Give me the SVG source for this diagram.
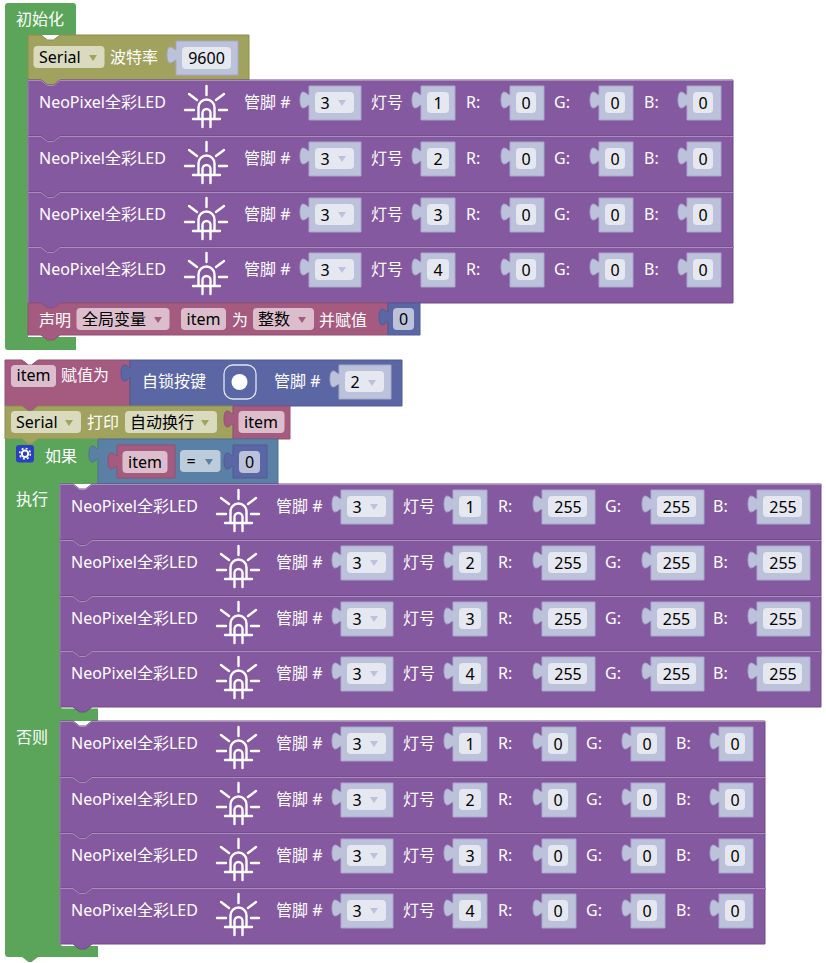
<svg xmlns="http://www.w3.org/2000/svg" width="826" height="963" viewBox="0 0 826 963">
<style>
text{font-family:"Noto Sans","Noto Sans CJK SC",sans-serif;font-size:16px;fill:#fff}
.k{fill:#000}.c{text-anchor:middle}
.f{fill:#fff;fill-opacity:.6}
.p{fill:#85599F;stroke:#6F4B86;stroke-width:1}
.ph{fill:none;stroke:#A78CBC;stroke-width:1}
.s{fill:#BDC2DB;stroke:#A6A6CB;stroke-width:1}
.g{fill:#5BA55B}
.o{fill:#A0A25E;stroke:#8C8E50;stroke-width:1}
.v{fill:#A55B80;stroke:#92506F;stroke-width:1}
.b{fill:#5B67A5;stroke:#505B92;stroke-width:1}
.l{fill:#5B80A5;stroke:#507092;stroke-width:1}
.a{fill:#BDC2DB}
.i{fill:none;stroke:#fff;stroke-width:2.4;stroke-linecap:round;stroke-linejoin:round}
</style>
<defs>
<path id="slot34" d="M0,0H34V34H0V19c-2,0 -3,3 -6,3c-2,0 -3,-4 -3,-8c0,-4 1,-8 3,-8c3,0 4,3 6,3Z"/>
<path id="slot53" d="M0,0H53V34H0V19c-2,0 -3,3 -6,3c-2,0 -3,-4 -3,-8c0,-4 1,-8 3,-8c3,0 4,3 6,3Z"/>
<g id="rowA"><path class="p" d="M0,0H13l6.500,5h6l6.500,-5H705V56H32l-6.500,5h-6L13,56H0Z"/><path class="ph" d="M0,56V0.500H13l6.500,5h6l6.500,-5H705"/></g>
<g id="rowB"><path class="p" d="M0,0H13l6.500,5h6l6.500,-5H761V56H32l-6.500,5h-6L13,56H0Z"/><path class="ph" d="M0,56V0.500H13l6.500,5h6l6.500,-5H761"/></g>
<g id="led" class="i"><path d="M178.500,6V15M161,14l8,6M196,14l-8,6M157,30H166M191,30H199M170.500,38V27.500a8,8 0 0 1 16,0V38M174.500,38V33a4,4 0 0 1 8,0V38M165,39H192M174.500,39V47M182.500,39V47"/></g>
<g id="pinslot"><path class="s" transform="translate(281,6)" d="M0,0H52V34H0V19c-2,0 -3,3 -6,3c-2,0 -3,-4 -3,-8c0,-4 1,-8 3,-8c3,0 4,3 6,3Z"/><rect class="f" x="287" y="12" width="39" height="21" rx="4"/><path class="a" d="M310,20h8l-4,6Z"/></g>
<g id="numbers"><use href="#slot34" class="s" x="393" y="6"/><rect class="f" x="399" y="12" width="22" height="21" rx="4"/></g>
<g id="zeros"><use href="#slot34" class="s" x="482" y="6"/><rect class="f" x="488" y="12" width="20" height="21" rx="4"/><use href="#slot34" class="s" x="571" y="6"/><rect class="f" x="577" y="12" width="20" height="21" rx="4"/><use href="#slot34" class="s" x="659" y="6"/><rect class="f" x="665" y="12" width="20" height="21" rx="4"/></g>
<g id="fulls"><use href="#slot53" class="s" x="482" y="6"/><rect class="f" x="488" y="12" width="39" height="21" rx="4"/><use href="#slot53" class="s" x="591" y="6"/><rect class="f" x="597" y="12" width="39" height="21" rx="4"/><use href="#slot53" class="s" x="697" y="6"/><rect class="f" x="703" y="12" width="39" height="21" rx="4"/></g>
</defs>
<rect width="826" height="963" fill="#fff"/>

<g id="init-hat"><path class="g" d="M8,3H73q3,0 3,3V35H28V337H76V350H8q-3,0 -3,-3V6q0,-3 3,-3Z"/><text x="16" y="25">初始化</text></g>

<g id="serial-baud"><path class="o" d="M28,35H41l6.500,5h6l6.500,-5H249V80H60l-6.500,5h-6L41,80H28Z"/>
<rect class="f" x="33.500" y="46" width="71" height="22" rx="4"/><text class="k" x="39" y="63">Serial</text><path fill="#A0A25E" d="M89,55h8l-4,6Z"/>
<text x="110" y="63">波特率</text><path class="s" transform="translate(176,41)" d="M0,0H62V34H0V19c-2,0 -3,3 -6,3c-2,0 -3,-4 -3,-8c0,-4 1,-8 3,-8c3,0 4,3 6,3Z"/><rect class="f" x="182" y="47" width="49" height="22" rx="4"/><text class="k c" x="206.500" y="64">9600</text></g>

<g id="led-init-1" transform="translate(28,80)"><use href="#rowA"/><text x="11" y="27.500">NeoPixel全彩LED</text><use href="#led"/><text x="216" y="28">管脚 #</text><use href="#pinslot"/><text class="k c" x="297" y="29">3</text><text x="343" y="28">灯号</text><use href="#numbers"/><text class="k c" x="410" y="29">1</text><text x="438" y="28">R:</text><use href="#zeros"/><text class="k c" x="498" y="29">0</text><text x="526" y="28">G:</text><text class="k c" x="587" y="29">0</text><text x="616" y="28">B:</text><text class="k c" x="675" y="29">0</text></g>
<g id="led-init-2" transform="translate(28,136)"><use href="#rowA"/><text x="11" y="27.500">NeoPixel全彩LED</text><use href="#led"/><text x="216" y="28">管脚 #</text><use href="#pinslot"/><text class="k c" x="297" y="29">3</text><text x="343" y="28">灯号</text><use href="#numbers"/><text class="k c" x="410" y="29">2</text><text x="438" y="28">R:</text><use href="#zeros"/><text class="k c" x="498" y="29">0</text><text x="526" y="28">G:</text><text class="k c" x="587" y="29">0</text><text x="616" y="28">B:</text><text class="k c" x="675" y="29">0</text></g>
<g id="led-init-3" transform="translate(28,192)"><use href="#rowA"/><text x="11" y="27.500">NeoPixel全彩LED</text><use href="#led"/><text x="216" y="28">管脚 #</text><use href="#pinslot"/><text class="k c" x="297" y="29">3</text><text x="343" y="28">灯号</text><use href="#numbers"/><text class="k c" x="410" y="29">3</text><text x="438" y="28">R:</text><use href="#zeros"/><text class="k c" x="498" y="29">0</text><text x="526" y="28">G:</text><text class="k c" x="587" y="29">0</text><text x="616" y="28">B:</text><text class="k c" x="675" y="29">0</text></g>
<g id="led-init-4" transform="translate(28,247)"><use href="#rowA"/><text x="11" y="27.500">NeoPixel全彩LED</text><use href="#led"/><text x="216" y="28">管脚 #</text><use href="#pinslot"/><text class="k c" x="297" y="29">3</text><text x="343" y="28">灯号</text><use href="#numbers"/><text class="k c" x="410" y="29">4</text><text x="438" y="28">R:</text><use href="#zeros"/><text class="k c" x="498" y="29">0</text><text x="526" y="28">G:</text><text class="k c" x="587" y="29">0</text><text x="616" y="28">B:</text><text class="k c" x="675" y="29">0</text></g>

<g id="declare"><path class="v" d="M28,303H41l6.500,5h6l6.500,-5H388V335H60l-6.500,5h-6L41,335H28Z"/><text x="39" y="326">声明</text><rect class="f" x="76.500" y="308" width="93" height="22" rx="4"/><text class="k" x="82" y="325">全局变量</text><path fill="#A55B80" d="M154,317h8l-4,6Z"/><rect class="f" x="181" y="308" width="45" height="22" rx="4"/><text class="k c" x="203.500" y="325">item</text><text x="232" y="326">为</text><rect class="f" x="253" y="308" width="61" height="22" rx="4"/><text class="k" x="258" y="325">整数</text><path fill="#A55B80" d="M298,317h8l-4,6Z"/><text x="319" y="326">并赋值</text></g>
<g id="declare-value"><path class="b" d="M388,303H420V335H388V322c-2,0 -3,3 -6,3c-2,0 -3,-4 -3,-8c0,-4 1,-8 3,-8c3,0 4,3 6,3Z"/><rect class="a" x="393" y="308" width="21" height="22" rx="4"/><text class="k c" x="403.500" y="325">0</text></g>

<g id="assign"><path class="v" d="M5,360H22l6.500,5h3l6.500,-5H130V406H38l-6.500,5h-3L22,406H5Z"/><rect class="f" x="11" y="365" width="45" height="22" rx="4"/><text class="k c" x="33.500" y="381">item</text><text x="61" y="381">赋值为</text></g>
<g id="latch-key"><path class="b" d="M130,360H402V406H130V378c-2,0 -3,3 -6,3c-2,0 -3,-4 -3,-8c0,-4 1,-8 3,-8c3,0 4,3 6,3Z"/><text x="142" y="387">自锁按键</text><rect x="224" y="365" width="32" height="34" rx="9" fill="none" stroke="#E4E6F1" stroke-width="1.300"/><circle cx="239.500" cy="382" r="8" fill="#fff"/><text x="274" y="387">管脚 #</text><path class="s" transform="translate(339,365)" d="M0,0H52V34H0V19c-2,0 -3,3 -6,3c-2,0 -3,-4 -3,-8c0,-4 1,-8 3,-8c3,0 4,3 6,3Z"/><rect class="f" x="345" y="371" width="39" height="21" rx="4"/><text class="k c" x="355" y="388">2</text><path class="a" d="M368,380h8l-4,6Z"/></g>
<g id="serial-print"><path class="o" d="M5,406H22l6.500,5h3l6.500,-5H233V439H38l-6.500,5h-3L22,439H5Z"/><rect class="f" x="11" y="411" width="70" height="22" rx="4"/><text class="k" x="16" y="428">Serial</text><path fill="#A0A25E" d="M65,420h8l-4,6Z"/><text x="87" y="428">打印</text><rect class="f" x="125" y="411" width="92" height="22" rx="4"/><text class="k" x="130" y="428">自动换行</text><path fill="#A0A25E" d="M201,420h8l-4,6Z"/></g>
<g id="print-item"><path class="v" d="M233,406H290V439H233V424c-2,0 -3,3 -6,3c-2,0 -3,-4 -3,-8c0,-4 1,-8 3,-8c3,0 4,3 6,3Z"/><rect class="f" x="238.500" y="411" width="46" height="22" rx="4"/><text class="k c" x="261" y="428">item</text></g>

<g id="if-block"><path class="g" d="M5,439H22l6.500,5h3l6.500,-5H98V484H60V706.500L62,708.500H98V721H60V944L62,946H98V957H38l-6.500,5h-3L22,957H8q-3,0 -3,-3Z"/>
<rect x="16" y="445" width="18" height="17.500" rx="3" fill="#2B40BE"/><circle cx="25" cy="453.700" r="3.200" fill="none" stroke="#fff" stroke-width="2"/><circle cx="25" cy="453.700" r="5.300" fill="none" stroke="#fff" stroke-width="1.600" stroke-dasharray="2 2.160"/>
<text x="45" y="462">如果</text><text x="16" y="505">执行</text><text x="16" y="743">否则</text></g>
<g id="compare"><path class="l" d="M98,439H278V484H98V459c-2,0 -3,3 -6,3c-2,0 -3,-4 -3,-8c0,-4 1,-8 3,-8c3,0 4,3 6,3Z"/><path class="v" d="M117,445H175V478H117V466c-2,0 -3,3 -6,3c-2,0 -3,-4 -3,-8c0,-4 1,-8 3,-8c3,0 4,3 6,3Z"/><rect class="f" x="122.500" y="451" width="45" height="22" rx="4"/><text class="k c" x="145" y="468">item</text><rect class="f" x="180" y="450" width="40.500" height="22" rx="4"/><text class="k c" x="191" y="467">=</text><path fill="#5B80A5" d="M205,459h8l-4,6Z"/><path class="b" d="M233,445H267V478H233V466c-2,0 -3,3 -6,3c-2,0 -3,-4 -3,-8c0,-4 1,-8 3,-8c3,0 4,3 6,3Z"/><rect class="a" x="239" y="451" width="21" height="22" rx="4"/><text class="k c" x="249.500" y="468">0</text></g>

<g id="led-then-1" transform="translate(60,484)"><use href="#rowB"/><text x="11" y="27.500">NeoPixel全彩LED</text><use href="#led"/><text x="216" y="28">管脚 #</text><use href="#pinslot"/><text class="k c" x="297" y="29">3</text><text x="343" y="28">灯号</text><use href="#numbers"/><text class="k c" x="410" y="29">1</text><text x="438" y="28">R:</text><use href="#fulls"/><text class="k c" x="508" y="29">255</text><text x="545" y="28">G:</text><text class="k c" x="616.500" y="29">255</text><text x="653" y="28">B:</text><text class="k c" x="723" y="29">255</text></g>
<g id="led-then-2" transform="translate(60,540)"><use href="#rowB"/><text x="11" y="27.500">NeoPixel全彩LED</text><use href="#led"/><text x="216" y="28">管脚 #</text><use href="#pinslot"/><text class="k c" x="297" y="29">3</text><text x="343" y="28">灯号</text><use href="#numbers"/><text class="k c" x="410" y="29">2</text><text x="438" y="28">R:</text><use href="#fulls"/><text class="k c" x="508" y="29">255</text><text x="545" y="28">G:</text><text class="k c" x="616.500" y="29">255</text><text x="653" y="28">B:</text><text class="k c" x="723" y="29">255</text></g>
<g id="led-then-3" transform="translate(60,596)"><use href="#rowB"/><text x="11" y="27.500">NeoPixel全彩LED</text><use href="#led"/><text x="216" y="28">管脚 #</text><use href="#pinslot"/><text class="k c" x="297" y="29">3</text><text x="343" y="28">灯号</text><use href="#numbers"/><text class="k c" x="410" y="29">3</text><text x="438" y="28">R:</text><use href="#fulls"/><text class="k c" x="508" y="29">255</text><text x="545" y="28">G:</text><text class="k c" x="616.500" y="29">255</text><text x="653" y="28">B:</text><text class="k c" x="723" y="29">255</text></g>
<g id="led-then-4" transform="translate(60,651)"><use href="#rowB"/><text x="11" y="27.500">NeoPixel全彩LED</text><use href="#led"/><text x="216" y="28">管脚 #</text><use href="#pinslot"/><text class="k c" x="297" y="29">3</text><text x="343" y="28">灯号</text><use href="#numbers"/><text class="k c" x="410" y="29">4</text><text x="438" y="28">R:</text><use href="#fulls"/><text class="k c" x="508" y="29">255</text><text x="545" y="28">G:</text><text class="k c" x="616.500" y="29">255</text><text x="653" y="28">B:</text><text class="k c" x="723" y="29">255</text></g>

<g id="led-else-1" transform="translate(60,721)"><use href="#rowA"/><text x="11" y="27.500">NeoPixel全彩LED</text><use href="#led"/><text x="216" y="28">管脚 #</text><use href="#pinslot"/><text class="k c" x="297" y="29">3</text><text x="343" y="28">灯号</text><use href="#numbers"/><text class="k c" x="410" y="29">1</text><text x="438" y="28">R:</text><use href="#zeros"/><text class="k c" x="498" y="29">0</text><text x="526" y="28">G:</text><text class="k c" x="587" y="29">0</text><text x="616" y="28">B:</text><text class="k c" x="675" y="29">0</text></g>
<g id="led-else-2" transform="translate(60,777)"><use href="#rowA"/><text x="11" y="27.500">NeoPixel全彩LED</text><use href="#led"/><text x="216" y="28">管脚 #</text><use href="#pinslot"/><text class="k c" x="297" y="29">3</text><text x="343" y="28">灯号</text><use href="#numbers"/><text class="k c" x="410" y="29">2</text><text x="438" y="28">R:</text><use href="#zeros"/><text class="k c" x="498" y="29">0</text><text x="526" y="28">G:</text><text class="k c" x="587" y="29">0</text><text x="616" y="28">B:</text><text class="k c" x="675" y="29">0</text></g>
<g id="led-else-3" transform="translate(60,833)"><use href="#rowA"/><text x="11" y="27.500">NeoPixel全彩LED</text><use href="#led"/><text x="216" y="28">管脚 #</text><use href="#pinslot"/><text class="k c" x="297" y="29">3</text><text x="343" y="28">灯号</text><use href="#numbers"/><text class="k c" x="410" y="29">3</text><text x="438" y="28">R:</text><use href="#zeros"/><text class="k c" x="498" y="29">0</text><text x="526" y="28">G:</text><text class="k c" x="587" y="29">0</text><text x="616" y="28">B:</text><text class="k c" x="675" y="29">0</text></g>
<g id="led-else-4" transform="translate(60,888)"><use href="#rowA"/><text x="11" y="27.500">NeoPixel全彩LED</text><use href="#led"/><text x="216" y="28">管脚 #</text><use href="#pinslot"/><text class="k c" x="297" y="29">3</text><text x="343" y="28">灯号</text><use href="#numbers"/><text class="k c" x="410" y="29">4</text><text x="438" y="28">R:</text><use href="#zeros"/><text class="k c" x="498" y="29">0</text><text x="526" y="28">G:</text><text class="k c" x="587" y="29">0</text><text x="616" y="28">B:</text><text class="k c" x="675" y="29">0</text></g>
</svg>
